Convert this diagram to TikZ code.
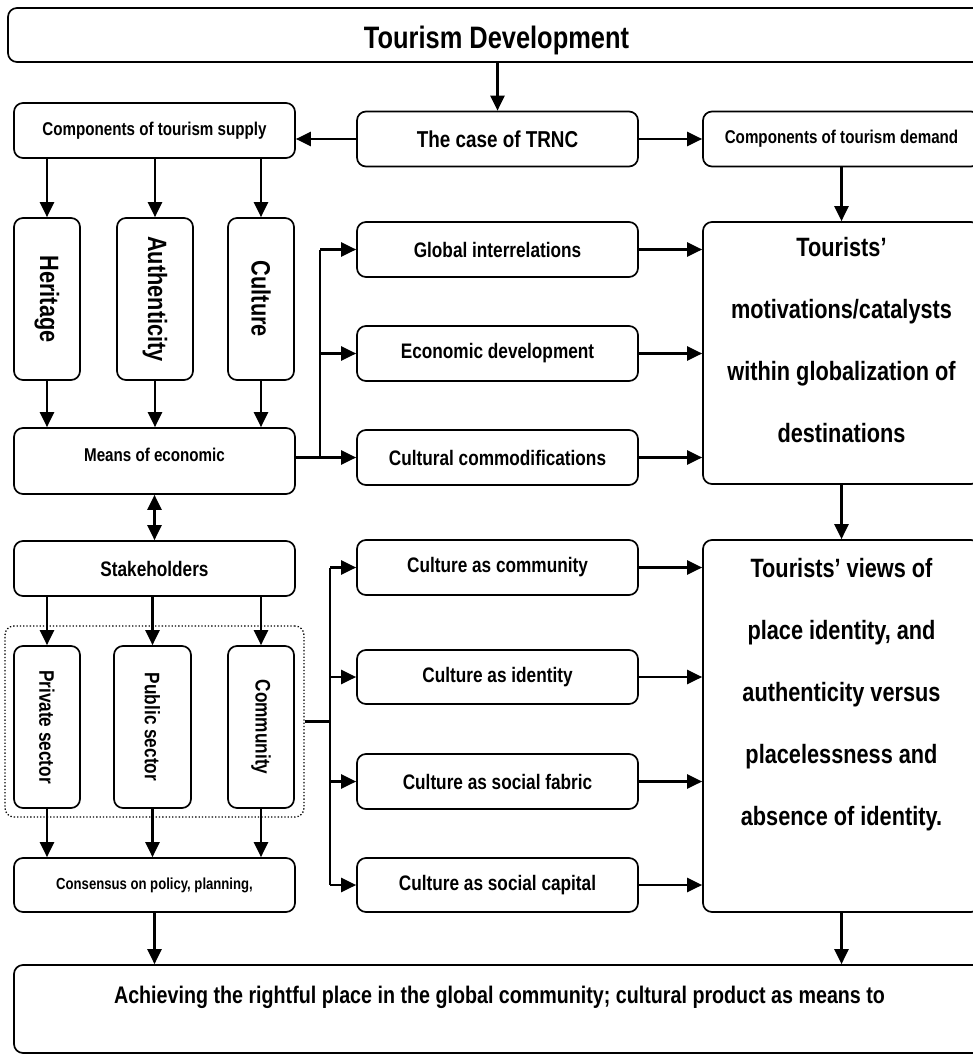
\documentclass[tikz,border=0pt]{standalone}
\usepackage{fontspec}
\setmainfont{Liberation Sans}[FakeStretch=0.82]
\usetikzlibrary{arrows.meta,positioning}

\tikzset{
	box/.style={rectangle, draw, rounded corners=9pt, line width=1.7pt, align=center, inner sep=0pt},
	hbox/.style={box, minimum width=281pt, minimum height=55pt},
	vbox/.style={box, rotate=-90, minimum width=162pt, minimum height=66pt, font=\bfseries\fontsize{26.5}{28}\selectfont},
	pbox/.style={vbox, font=\bfseries\fontsize{21}{23}\selectfont},
	midtext/.style={font=\bfseries\fontsize{21}{23}\selectfont},
	bigtext/.style={font=\bfseries\fontsize{26.5}{62}\selectfont},
	grpbox/.style={rectangle, draw, dotted, rounded corners=9pt, line width=1.3pt},
	arr/.style={draw, -{Triangle[length=15pt,width=14pt]}, line width=2.3pt},
	arrtwo/.style={draw, {Triangle[length=15pt,width=14pt]}-{Triangle[length=15pt,width=14pt]}, line width=2.3pt},
	trunk/.style={draw, line width=2.3pt}
}

\begin{document}
\begin{tikzpicture}[x=1pt, y=-1pt]
	\useasboundingbox (0,0) rectangle (973,1057);
	\node[hbox, minimum width=977pt, minimum height=54pt, text height=34pt, font=\bfseries\fontsize{31}{31}\selectfont] (top) at (496.5,35) {Tourism Development};
	\node[hbox, font=\bfseries\fontsize{18.5}{20}\selectfont] (supply) at (154.5,130.5) {Components of tourism supply};
	\node[hbox, font=\bfseries\fontsize{23}{25}\selectfont] (trnc) at (497.5,139) {The case of TRNC};
	\node[hbox, minimum width=277pt, font=\bfseries\fontsize{18.5}{20}\selectfont] (demand) at (841.5,139) {Components of tourism demand};
	\node[vbox] (heritage) at (47,299) {Heritage};
	\node[vbox, minimum height=76pt] (authen) at (155,299) {Authenticity};
	\node[vbox] (culture) at (261,299) {Culture};
	\node[hbox, minimum height=66pt, text depth=12pt, font=\bfseries\fontsize{18.5}{20}\selectfont] (means) at (154.5,461) {Means of economic};
	\node[hbox, midtext] (glob) at (497.5,249.5) {Global interrelations};
	\node[hbox, midtext] (econ) at (497.5,353.5) {Economic development};
	\node[hbox, midtext] (commod) at (497.5,457.5) {Cultural commodifications};
	\node[hbox, bigtext, minimum width=277pt, minimum height=262pt, text depth=26pt] (motiv) at (841.5,353) {Tourists’\\motivations/catalysts\\within globalization of\\destinations};
	\node[hbox, midtext] (stake) at (154.5,568.5) {Stakeholders};
	\node[grpbox, minimum width=299pt, minimum height=191pt] (group) at (154.5,721.5) {};
	\node[pbox] (private) at (47,727) {Private sector};
	\node[pbox, minimum height=77pt] (public) at (152.5,727) {Public sector};
	\node[pbox] (commun) at (261,727) {Community};
	\node[hbox, minimum height=54pt, font=\bfseries\fontsize{16}{18}\selectfont] (consensus) at (154.5,885) {Consensus on policy, planning,};
	\node[hbox, midtext] (cone) at (497.5,567.5) {Culture as community};
	\node[hbox, midtext, minimum height=54pt] (ctwo) at (497.5,677) {Culture as identity};
	\node[hbox, midtext] (cthree) at (497.5,781.5) {Culture as social fabric};
	\node[hbox, midtext, minimum height=54pt] (cfour) at (497.5,885) {Culture as social capital};
	\node[hbox, bigtext, minimum width=277pt, minimum height=372pt, text depth=68pt] (views) at (841.5,726) {Tourists’ views of\\place identity, and\\authenticity versus\\placelessness and\\absence of identity.};
	\node[hbox, minimum width=971pt, minimum height=88pt, text depth=28pt, font=\bfseries\fontsize{24}{26}\selectfont] (final) at (499.5,1009) {Achieving the rightful place in the global community; cultural product as means to};
	\coordinate (jup) at (320,457.5);
	\coordinate (jlow) at (330,721.5);
	\path[arr] (top.south -| trnc.north) -- (trnc.north);
	\path[arr] (trnc.west) -- (supply.east |- trnc.west);
	\path[arr] (trnc.east) -- (demand.west |- trnc.east);
	\path[arr] (supply.south -| heritage) -- (heritage);
	\path[arr] (supply.south -| authen) -- (authen);
	\path[arr] (supply.south -| culture) -- (culture);
	\path[arr] (heritage) -- (means.north -| heritage);
	\path[arr] (authen) -- (means.north -| authen);
	\path[arr] (culture) -- (means.north -| culture);
	\path[trunk] (means.east |- jup) -- (jup) -- (jup |- glob);
	\path[arr] (jup |- glob) -- (glob);
	\path[arr] (jup |- econ) -- (econ);
	\path[arr] (jup) -- (commod);
	\path[arr] (glob) -- (motiv.west |- glob);
	\path[arr] (econ) -- (motiv.west |- econ);
	\path[arr] (commod) -- (motiv.west |- commod);
	\path[arr] (demand) -- (motiv);
	\path[arr] (motiv) -- (views);
	\path[arrtwo] (means) -- (stake);
	\path[arr] (stake.south -| private) -- (private);
	\path[arr] (stake.south -| public) -- (public);
	\path[arr] (stake.south -| commun) -- (commun);
	\path[arr] (private) -- (consensus.north -| private);
	\path[arr] (public) -- (consensus.north -| public);
	\path[arr] (commun) -- (consensus.north -| commun);
	\path[trunk] (group.east) -- (jlow);
	\path[trunk] (jlow |- cone) -- (jlow |- cfour);
	\path[arr] (jlow |- cone) -- (cone);
	\path[arr] (jlow |- ctwo) -- (ctwo);
	\path[arr] (jlow |- cthree) -- (cthree);
	\path[arr] (jlow |- cfour) -- (cfour);
	\path[arr] (cone) -- (views.west |- cone);
	\path[arr] (ctwo) -- (views.west |- ctwo);
	\path[arr] (cthree) -- (views.west |- cthree);
	\path[arr] (cfour) -- (views.west |- cfour);
	\path[arr] (consensus) -- (final.north -| consensus);
	\path[arr] (views) -- (final.north -| views);
\end{tikzpicture}
\end{document}
